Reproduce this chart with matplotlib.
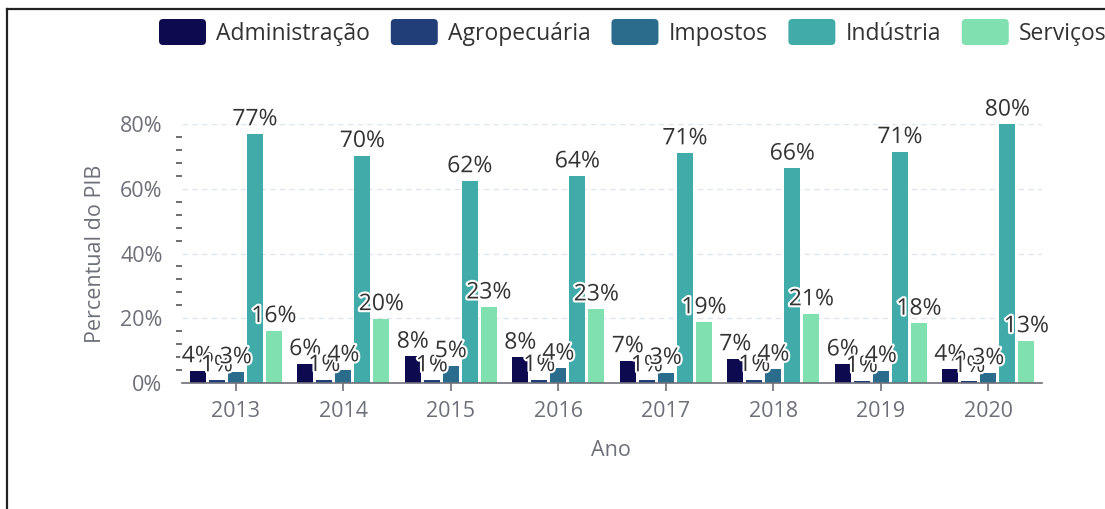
import numpy as np
import matplotlib
matplotlib.use("Agg")
import matplotlib.pyplot as plt
import matplotlib.patheffects as pe
from matplotlib.patches import FancyBboxPatch, Patch
from matplotlib.legend_handler import HandlerPatch
from matplotlib.lines import Line2D
from matplotlib.ticker import MultipleLocator, FuncFormatter

plt.rcParams['font.family'] = ['Open Sans', 'DejaVu Sans']

# data (percent of GDP)
anos = ['2013', '2014', '2015', '2016', '2017', '2018', '2019', '2020']
setores = ['Administração', 'Agropecuária', 'Impostos', 'Indústria', 'Serviços']
administracao = [3.7, 5.9, 8.2, 7.9, 6.8, 7.4, 5.8, 4.2]
agropecuaria = [0.9, 1.0, 0.9, 1.0, 0.9, 1.0, 0.7, 0.7]
impostos = [3.4, 4.0, 5.3, 4.5, 3.2, 4.2, 3.8, 3.1]
industria = [76.9, 70.2, 62.4, 63.9, 71.0, 66.3, 71.4, 79.9]
servicos = [16.1, 19.8, 23.4, 22.8, 18.8, 21.3, 18.4, 13.0]
cores = ['#0e0a4f', '#213e78', '#2b6c8c', '#41abaa', '#80e0b0']

series = [administracao, agropecuaria, impostos, industria, servicos]

AXIS_GRAY = '#6e7079'
TXT = '#333333'
FS = 15.5      # tick labels / axis names
FS_LAB = 16.5  # bar labels
FS_LEG = 16.5  # legend


class RoundBox(HandlerPatch):
    # rounded legend markers like the original
    def create_artists(self, legend, orig_handle, xdescent, ydescent,
                       width, height, fontsize, trans):
        p = FancyBboxPatch((-xdescent, -ydescent), width, height,
                           boxstyle="round,pad=0,rounding_size=3",
                           fc=orig_handle.get_facecolor(), ec='none',
                           transform=trans)
        return [p]


fig = plt.figure(figsize=(11.05, 5.09), dpi=100)
ax = fig.add_axes([182/1105, 126/509, 860/1105, 259/509])

x = np.arange(len(anos))
bw = 0.149
step = 0.177
for i, (nome, vals) in enumerate(zip(setores, series)):
    bars = ax.bar(x + (i - 2) * step, vals, width=bw, color=cores[i],
                  label=nome, zorder=3)
    lbls = ax.bar_label(bars, fmt='%.0f%%', padding=2, fontsize=FS_LAB,
                        color=TXT, zorder=5)
    for t in lbls:
        t.set_path_effects([pe.withStroke(linewidth=3, foreground='white')])
        t.set_clip_on(False)

ax.set_xlim(-0.5, len(anos) - 0.5)
ax.set_ylim(0, 80)
ax.set_xticks(x)
ax.set_xticklabels(anos)
ax.yaxis.set_major_locator(MultipleLocator(20))
ax.yaxis.set_minor_locator(MultipleLocator(4))
ax.yaxis.set_major_formatter(FuncFormatter(lambda v, p: '%d%%' % v))

for s in ['top', 'right', 'left']:
    ax.spines[s].set_visible(False)
ax.spines['bottom'].set_color(AXIS_GRAY)
ax.spines['bottom'].set_linewidth(1.2)
ax.spines['bottom'].set_zorder(4)

ax.tick_params(axis='x', length=6, width=1.2, color=AXIS_GRAY,
               labelcolor=AXIS_GRAY, labelsize=FS, pad=7)
ax.tick_params(axis='y', which='major', length=0, labelcolor=AXIS_GRAY,
               labelsize=FS, pad=14)
ax.tick_params(axis='y', which='minor', length=4, width=1.2, color='#555555')

ax.grid(axis='y', color='#e0e6f1', linestyle=(0, (4, 3)), linewidth=1, zorder=0)

ax.set_ylabel('Percentual do PIB', fontsize=FS, color=AXIS_GRAY)
ax.yaxis.set_label_coords(-0.088, 0.5)
ax.set_xlabel('Ano', fontsize=FS, color=AXIS_GRAY)
ax.xaxis.set_label_coords(0.499, -0.22)

handles = [Patch(facecolor=c, label=n) for c, n in zip(cores, setores)]
fig.legend(handles=handles, loc='upper left',
           bbox_to_anchor=(159/1105, 1 - 19/509), ncol=5, frameon=False,
           fontsize=FS_LEG, labelcolor=TXT, handlelength=2.05, handleheight=1.37,
           handletextpad=0.45, columnspacing=0.9, borderpad=0, borderaxespad=0,
           handler_map={Patch: RoundBox()})

# frame around the container (screenshot crop)
fig.add_artist(Line2D([7/1105, 1], [1 - 9/509, 1 - 9/509], color='#222222',
                      lw=1.6, transform=fig.transFigure))
fig.add_artist(Line2D([7/1105, 7/1105], [0, 1 - 9/509], color='#222222',
                      lw=1.6, transform=fig.transFigure))

fig.savefig('out.png', dpi=100)
